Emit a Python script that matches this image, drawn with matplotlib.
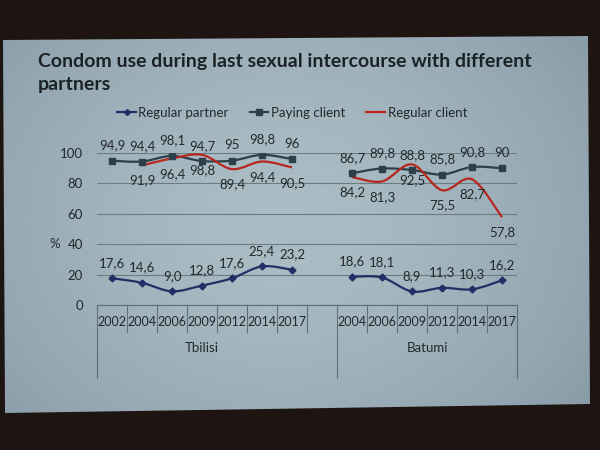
import numpy as np
import matplotlib
matplotlib.use("Agg")
import matplotlib.pyplot as plt
from matplotlib.path import Path
from matplotlib.patches import PathPatch, Polygon
from matplotlib.lines import Line2D
import matplotlib.transforms as mtransforms

# ---------------- data ----------------
cities = ["Tbilisi", "Batumi"]
years_tbilisi = ["2002", "2004", "2006", "2009", "2012", "2014", "2017"]
years_batumi = ["2004", "2006", "2009", "2012", "2014", "2017"]

regular_partner_tbilisi = [17.6, 14.6, 9.0, 12.8, 17.6, 25.4, 23.2]
regular_partner_batumi = [18.6, 18.1, 8.9, 11.3, 10.3, 16.2]
paying_client_tbilisi = [94.9, 94.4, 98.1, 94.7, 95, 98.8, 96]
paying_client_batumi = [86.7, 89.8, 88.8, 85.8, 90.8, 90]
regular_client_tbilisi = [np.nan, 91.9, 96.4, 98.8, 89.4, 94.4, 90.5]
regular_client_batumi = [84.2, 81.3, 92.5, 75.5, 82.7, 57.8]

series_names = ["Regular partner", "Paying client", "Regular client"]
y_ticks = [0, 20, 40, 60, 80, 100]

# ---------------- layout ----------------
plt.rcParams["font.family"] = ["Lato", "DejaVu Sans"]
fig = plt.figure(figsize=(6, 4.5), dpi=100)
fig.patch.set_facecolor("#1e1512")

# projected slide (photo-like)
bg = fig.add_axes([0, 0, 1, 1], zorder=-10)
bg.set_xlim(0, 600)
bg.set_ylim(450, 0)
bg.axis("off")
h, w = 450, 600
yy, xx = np.mgrid[0:h, 0:w]
r = np.sqrt(((xx - 280) / 340.0) ** 2 + ((yy - 220) / 280.0) ** 2)
t = np.clip(r, 0, 1.2) / 1.2
center = np.array([0.67, 0.74, 0.77])
edge = np.array([0.52, 0.60, 0.65])
img = center[None, None, :] * (1 - t[..., None] ** 1.6) + edge[None, None, :] * (t[..., None] ** 1.6)
im = bg.imshow(img, extent=[0, 600, 450, 0], aspect="auto", zorder=0)
slide = Polygon([(3, 40), (588, 36), (590, 404), (5, 413)], closed=True, facecolor="none",
                edgecolor="none", transform=bg.transData)
bg.add_patch(slide)
im.set_clip_path(slide)

ax = fig.add_axes([97 / 600, 1 - 305 / 450, 420 / 600, 152 / 450])
ax.set_facecolor("none")

n_t = len(years_tbilisi)
n_b = len(years_batumi)
x_t = np.arange(n_t)
x_b = np.arange(n_b) + n_t + 1
n_slots = n_t + 1 + n_b

txt = "#23292d"
ax.set_xlim(-0.5, n_slots - 0.5)
ax.set_ylim(0, 100)
ax.set_yticks(y_ticks)
ax.set_yticklabels([str(v) for v in y_ticks], fontsize=9.5, color=txt)
ax.tick_params(axis="y", length=0, pad=10)
ax.set_xticks([])
for s in ["top", "right", "left"]:
    ax.spines[s].set_visible(False)
ax.spines["bottom"].set_color("#5f6f76")
ax.grid(axis="y", color="#6c7c83", linewidth=0.8)
ax.set_axisbelow(True)

col_rp = "#222f66"
col_pc = "#2b4049"
col_rc = "#b8261e"


def smooth_path(xs, ys):
    xs = np.asarray(xs, float)
    ys = np.asarray(ys, float)
    m = ~np.isnan(ys)
    xs, ys = xs[m], ys[m]
    pts = np.column_stack([xs, ys])
    verts = [pts[0]]
    codes = [Path.MOVETO]
    n = len(pts)
    for i in range(n - 1):
        p0 = pts[i - 1] if i > 0 else pts[i]
        p1 = pts[i]
        p2 = pts[i + 1]
        p3 = pts[i + 2] if i + 2 < n else pts[i + 1]
        c1 = p1 + (p2 - p0) / 6.0
        c2 = p2 - (p3 - p1) / 6.0
        verts += [c1, c2, p2]
        codes += [Path.CURVE4] * 3
    return Path(verts, codes)


def draw(xs, ys, color, marker, ms):
    ax.add_patch(PathPatch(smooth_path(xs, ys), facecolor="none", edgecolor=color, lw=1.6, zorder=3))
    if marker:
        ax.plot(xs, ys, linestyle="none", marker=marker, color=color, ms=ms, zorder=4)


def fmt(v):
    return f"{v:.1f}".replace(".", ",") if abs(v - round(v)) > 1e-9 or v < 10 else str(int(round(v)))


def labels(xs, ys, dy):
    for x, y in zip(xs, ys):
        if np.isnan(y):
            continue
        ax.annotate(fmt(y), (x, y), xytext=(0, dy), textcoords="offset points",
                    ha="center", va="center", fontsize=9.5, color=txt, zorder=5)


for xs, rp, pc, rc in [(x_t, regular_partner_tbilisi, paying_client_tbilisi, regular_client_tbilisi),
                       (x_b, regular_partner_batumi, paying_client_batumi, regular_client_batumi)]:
    draw(xs, rp, col_rp, "D", 3.5)
    draw(xs, pc, col_pc, "s", 4.5)
    draw(xs, rc, col_rc, None, 0)
    labels(xs, rp, 11)
    labels(xs, pc, 11)
    labels(xs, rc, -11)

# multi-level category axis
trans = mtransforms.blended_transform_factory(ax.transData, ax.transAxes)
line_kw = dict(color="#5f6f76", lw=0.8, transform=trans, clip_on=False)
for k in range(n_slots + 1):
    xb = k - 0.5
    if k in (0, n_t + 1, n_slots):
        ax.plot([xb, xb], [0, -0.48], **line_kw)
    else:
        ax.plot([xb, xb], [0, -0.18], **line_kw)
for x, lab in zip(x_t, years_tbilisi):
    ax.text(x, -0.11, lab, transform=trans, ha="center", va="center", fontsize=9, color=txt)
for x, lab in zip(x_b, years_batumi):
    ax.text(x, -0.11, lab, transform=trans, ha="center", va="center", fontsize=9, color=txt)
ax.text(x_t.mean(), -0.28, cities[0], transform=trans, ha="center", va="center",
        fontsize=9.5, color=txt)
ax.text(x_b.mean(), -0.28, cities[1], transform=trans, ha="center", va="center",
        fontsize=9.5, color=txt)

ax.text(-0.1, 0.4, "%", transform=ax.transAxes, ha="center", va="center", fontsize=9.5, color=txt)

# legend
handles = [
    Line2D([], [], color=col_rp, marker="D", ms=3, lw=1.6),
    Line2D([], [], color=col_pc, marker="s", ms=4, lw=1.6),
    Line2D([], [], color=col_rc, lw=1.6),
]
fig.legend(handles, series_names, loc="center", bbox_to_anchor=(0.487, 1 - 113 / 450), ncol=3,
           frameon=False, fontsize=9.5, handlelength=1.4, handletextpad=0.2, columnspacing=1.6,
           labelcolor=txt)

fig.text(38 / 600, 1 - 73 / 450, "Condom use during last sexual intercourse with different\npartners",
         ha="left", va="center", fontsize=14, fontweight="bold", color="#1b2226", linespacing=1.4)

fig.savefig("out.png", dpi=100, facecolor=fig.get_facecolor())
